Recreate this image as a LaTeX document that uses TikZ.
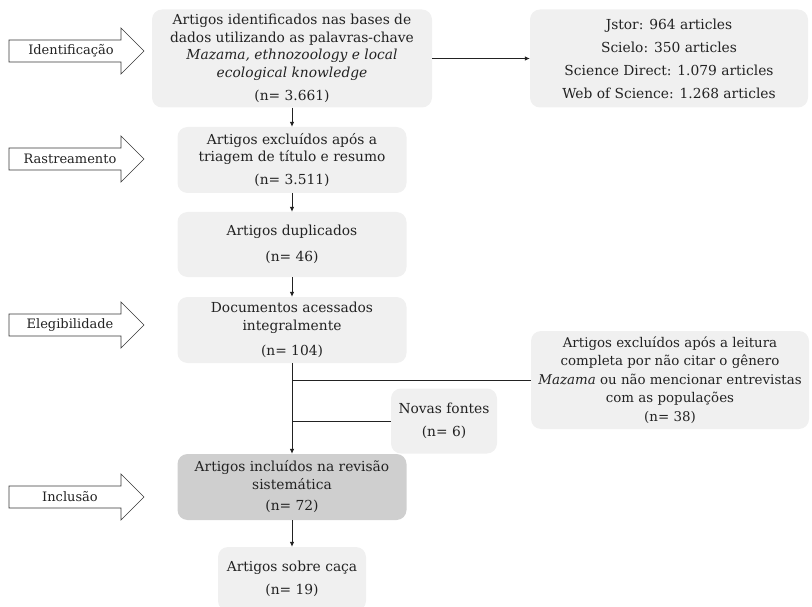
\documentclass[tikz,border=0pt]{standalone}
\usepackage{fontspec}
\setmainfont{DejaVu Serif}
\usetikzlibrary{arrows.meta}
\definecolor{boxlight}{HTML}{F0F0F0}
\definecolor{boxdark}{HTML}{CFCFCF}
\definecolor{inkc}{HTML}{222222}
\begin{document}
\begin{tikzpicture}[x=1pt,y=-1pt,
  box/.style={fill=boxlight, rounded corners=10pt, inner sep=0pt, align=center,
    text=inkc, font=\fontsize{13.8}{17.5}\selectfont},
  darkbox/.style={box, fill=boxdark},
  conn/.style={draw=inkc, line width=0.8pt},
  arr/.style={conn, -{Latex[length=5pt,width=4.5pt]}},
  stageline/.style={draw=inkc!90, line width=0.7pt, fill=white},
  lbl/.style={inner sep=0pt, text=inkc, font=\fontsize{13}{15}\selectfont},
  stage/.pic={\path[stageline] (-60,-11) -- (52,-11) -- (52,-23) -- (75,0) -- (52,23) -- (52,11) -- (-60,11) -- cycle;}
]
\useasboundingbox (0,0) rectangle (812,607);

% stage arrows
\pic at (69,51) {stage};
\node[lbl] (s1) at (71,51) {Identificação};
\pic at (69,159) {stage};
\node[lbl] (s2) at (70,159) {Rastreamento};
\pic at (69,325) {stage};
\node[lbl] (s3) at (70,325) {Elegibilidade};
\pic at (69,497) {stage};
\node[lbl] (s4) at (70,497) {Inclusão};

% boxes
\node[box, minimum width=280pt, minimum height=98pt] (b1) at (292,58.5)
  {Artigos identificados nas bases de\\ dados utilizando as palavras-chave\\
   \textit{Mazama, ethnozoology e local}\\ \textit{ecological knowledge}\\[6pt] (n= 3.661)};
\node[box, minimum width=278pt, minimum height=98pt, font=\fontsize{13.8}{23}\selectfont] (db) at (669,58.5)
  {Jstor: 964 articles\\ Scielo: 350 articles\\ Science Direct: 1.079 articles\\ Web of Science: 1.268 articles};
\node[box, minimum width=229pt, minimum height=66pt] (b2) at (292,160)
  {Artigos excluídos após a\\ triagem de título e resumo\\[5pt] (n= 3.511)};
\node[box, minimum width=229pt, minimum height=65pt] (b3) at (292,244.5)
  {Artigos duplicados\\[8pt] (n= 46)};
\node[box, minimum width=229pt, minimum height=66pt] (b4) at (292,330)
  {Documentos acessados\\ integralmente\\[8pt] (n= 104)};
\node[box, minimum width=278pt, minimum height=98pt, font=\fontsize{13.4}{18.5}\selectfont] (ex) at (670,380)
  {Artigos excluídos após a leitura\\ completa por não citar o gênero\\
   \textit{Mazama} ou não mencionar entrevistas\\ com as populações\\ (n= 38)};
\node[box, minimum width=106pt, minimum height=65pt] (nv) at (444,421)
  {Novas fontes\\[6pt] (n= 6)};
\node[darkbox, minimum width=229pt, minimum height=66pt] (b5) at (292,487)
  {Artigos incluídos na revisão\\ sistemática\\[4pt] (n= 72)};
\node[box, minimum width=148pt, minimum height=64pt] (b6) at (292,579)
  {Artigos sobre caça\\[5pt] (n= 19)};

% connectors
\draw[arr] (b1.east) -- (db.west);
\draw[arr] (b1.south) -- (b2.north);
\draw[arr] (b2.south) -- (b3.north);
\draw[arr] (b3.south) -- (b4.north);
\draw[arr] (b4.south) -- (b5.north);
\draw[conn] (b4.south |- ex.west) -- (ex.west);
\draw[conn] (b4.south |- nv.west) -- (nv.west);
\draw[arr] (b5.south) -- (b6.north);
\end{tikzpicture}
\end{document}
